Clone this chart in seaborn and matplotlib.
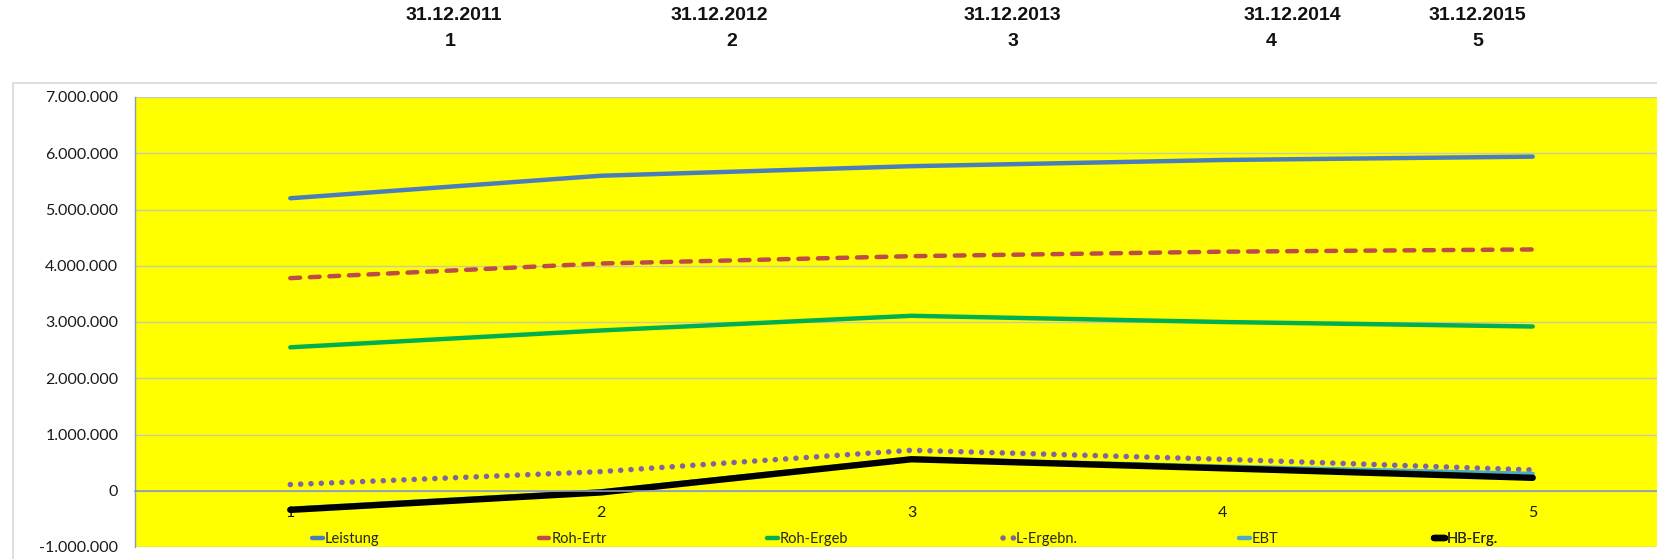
import pandas as pd
import seaborn as sns
import matplotlib.pyplot as plt
from matplotlib.patches import Rectangle
from matplotlib.ticker import FuncFormatter, MultipleLocator, FixedLocator

# values
periods = [1, 2, 3, 4, 5]
dates = ['31.12.2011', '31.12.2012', '31.12.2013', '31.12.2014', '31.12.2015']
leistung = [5200000, 5600000, 5770000, 5880000, 5940000]
roh_ertr = [3780000, 4040000, 4170000, 4250000, 4290000]
roh_ergeb = [2550000, 2850000, 3110000, 3000000, 2920000]
l_ergebn = [110000, 340000, 720000, 560000, 370000]
ebt = [-320000, -10000, 570000, 430000, 300000]
hb_erg = [-340000, -30000, 560000, 400000, 230000]

names = ['Leistung', 'Roh-Ertr', 'Roh-Ergeb', 'L-Ergebn.', 'EBT', 'HB-Erg.']
series = [leistung, roh_ertr, roh_ergeb, l_ergebn, ebt, hb_erg]
colors = ['#4A7EBB', '#BE4B48', '#00B050', '#7F64A2', '#4BACC6', '#000000']
widths = [3.2, 3.2, 3.2, 4.0, 3.2, 4.6]
styles = ['-', (0, (2.2, 2.2)), '-', (0, (0.01, 1.85)), '-', '-']

sns.set_theme(style='white')
plt.rcParams['font.family'] = ['Lato', 'DejaVu Sans']

fig = plt.figure(figsize=(16.58, 5.59), dpi=100)
ax = fig.add_axes([135 / 1658, 1 - 547 / 559, (1688 - 135) / 1658, 450 / 559])
ax.set_facecolor('#FFFF00')

for name, vals, c, lw, ls in zip(names, series, colors, widths, styles):
    sns.lineplot(x=periods, y=vals, ax=ax, color=c, lw=lw, linestyle=ls,
                 dash_capstyle='round', solid_capstyle='round', label=name)

ax.set_xlim(0.5, 5.5)
ax.set_ylim(-1000000, 7000000)
ax.yaxis.set_major_locator(MultipleLocator(1000000))
ax.yaxis.set_major_formatter(FuncFormatter(lambda v, p: f'{int(round(v)):,}'.replace(',', '.')))
ax.grid(axis='y', color='#C9C9A6', lw=1)
ax.grid(axis='x', visible=False)
ax.set_axisbelow(True)

ax.set_xticks(periods)
ax.set_xticklabels([str(p) for p in periods])
ax.xaxis.set_minor_locator(FixedLocator([1.5, 2.5, 3.5, 4.5]))
ax.tick_params(axis='x', which='major', length=0, pad=11, labelsize=11.5, colors='#1A1A1A')
ax.tick_params(axis='x', which='minor', length=5, width=0.8, color='#8A9AB8', direction='out')
ax.tick_params(axis='y', length=0, pad=12, labelsize=11.5, colors='#1A1A1A')

for s in ['top', 'right']:
    ax.spines[s].set_visible(False)
ax.spines['bottom'].set_position(('data', 0))
ax.spines['bottom'].set_color('#8A9AB8')
ax.spines['bottom'].set_linewidth(1.2)
ax.spines['left'].set_color('#8A9AB8')
ax.spines['left'].set_linewidth(1)
ax.set_xlabel('')
ax.set_ylabel('')

# legend: Excel spreads the entries along the bottom of the plot area
handles, labels = ax.get_legend_handles_labels()
ax.get_legend().remove()
leg_x = [312, 539, 767, 1003, 1239, 1434]
for h, lab, lx in zip(handles, labels, leg_x):
    lg = ax.legend([h], [lab], loc='center left', bbox_to_anchor=(lx / 1658, 1 - 539 / 559),
                   bbox_transform=fig.transFigure, frameon=False, fontsize=10.5,
                   handlelength=0.75, handletextpad=0.1, borderpad=0, borderaxespad=0)
    ax.add_artist(lg)

# header rows with dates and period numbers
date_x = [454, 719, 1012, 1292, 1477]
num_x = [450, 732, 1013, 1271, 1478]
for d, p, dx, nx in zip(dates, periods, date_x, num_x):
    fig.text(dx / 1658, 1 - 16 / 559, d, ha='center', va='center', fontsize=14,
             fontweight='bold', family='Liberation Sans', color='#111111')
    fig.text(nx / 1658, 1 - 42 / 559, str(p), ha='center', va='center', fontsize=14,
             fontweight='bold', family='Liberation Sans', color='#111111')

# light chart-area border
fig.add_artist(Rectangle((13 / 1658, -0.1), 1.2, 1.1 - 83 / 559, transform=fig.transFigure,
                         fill=False, edgecolor='#D9D9D9', lw=1.2, zorder=-1))

fig.savefig('out.png', dpi=100)
